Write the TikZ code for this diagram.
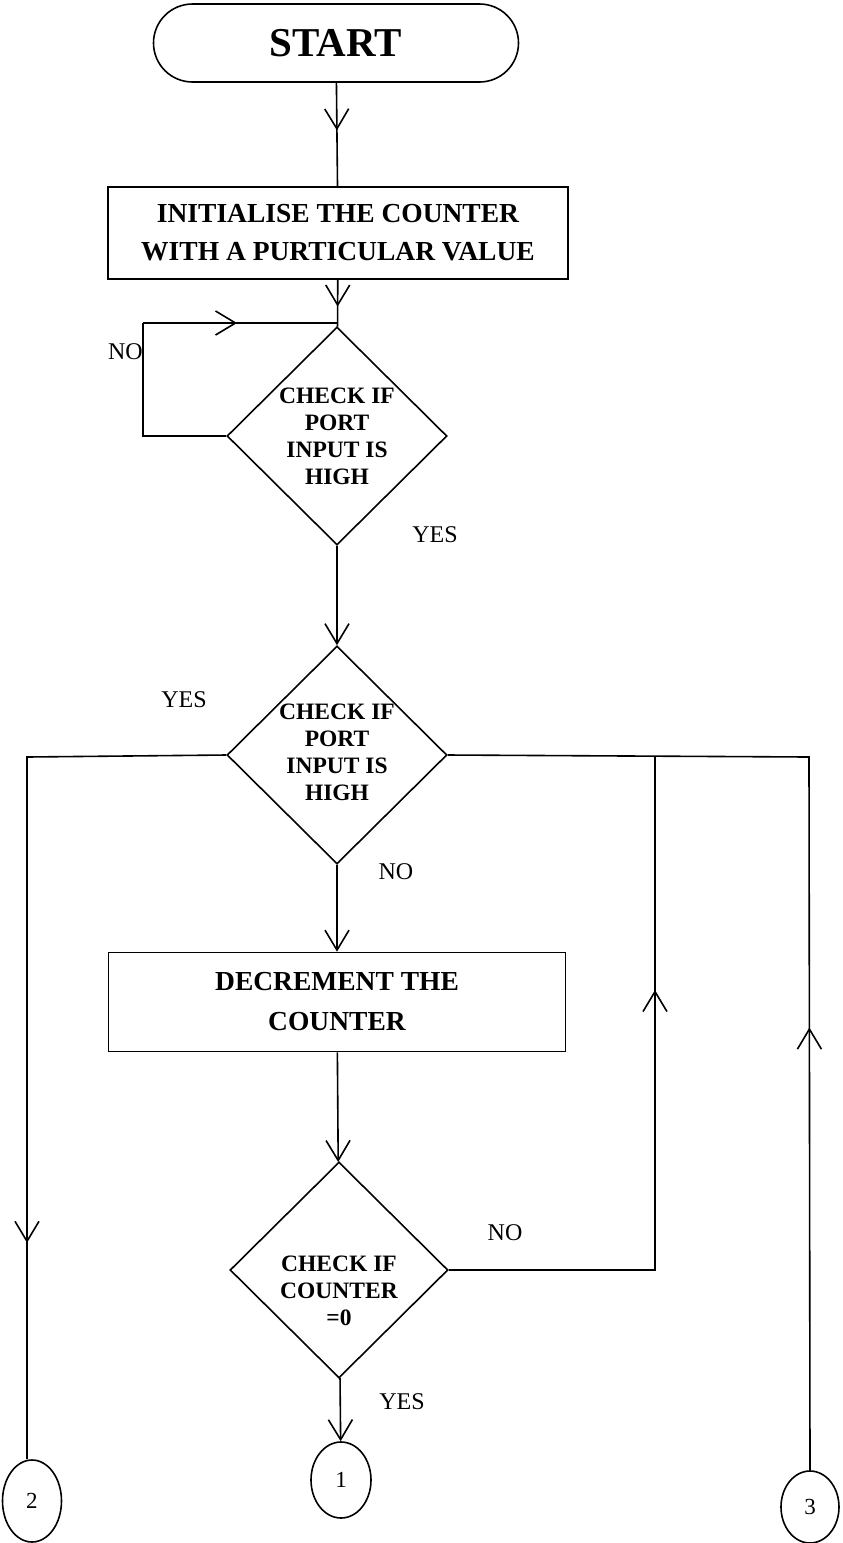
\documentclass[tikz,border=0pt]{standalone}
\usepackage{fontspec}
\setmainfont{Liberation Serif}
\usetikzlibrary{arrows.meta,shapes.geometric,decorations.markings}
\begin{document}
\begin{tikzpicture}[x=1pt,y=-1pt,
  flow/.style={line width=1.6pt},
  >={Straight Barb[length=20pt,width=24pt]},
  midarrow/.style={postaction={decorate,decoration={markings,mark=at position #1 with {\arrow{>}}}}},
  terminal/.style={draw,line width=1.6pt,rounded corners=39pt,minimum width=365pt,minimum height=78pt,inner sep=0pt},
  process/.style={draw,line width=1.6pt,inner sep=0pt,align=center},
  decision/.style={draw,line width=1.6pt,diamond,inner sep=0pt,minimum width=220pt,minimum height=218pt},
  dtext/.style={align=center,font=\fontsize{23.5}{27}\selectfont\bfseries},
  conn/.style={draw,line width=1.6pt,ellipse,inner sep=0pt,font=\fontsize{23}{23}\selectfont},
  answer/.style={font=\fontsize{24}{24}\selectfont,inner sep=0pt}]
\useasboundingbox (0,0) rectangle (843,1543);

% boxes
\node[terminal,font=\fontsize{41}{41}\selectfont\bfseries] (start) at (336,43) {START};
\node[process,minimum width=460pt,minimum height=92pt,font=\fontsize{27.5}{38}\selectfont\bfseries] (init) at (338,233)
  {INITIALISE THE COUNTER\\WITH A PURTICULAR VALUE};
\node[decision] (d1) at (337,436) {};
\node[dtext] at (d1) {CHECK IF\\PORT\\INPUT IS\\HIGH};
\node[decision] (d2) at (337,755) {};
\node[dtext] at (337,752) {CHECK IF\\PORT\\INPUT IS\\HIGH};
\node[process,minimum width=457pt,minimum height=99pt,font=\fontsize{27.5}{40}\selectfont\bfseries] (dec) at (337,1002)
  {DECREMENT THE\\COUNTER};
\node[decision,minimum width=218pt,minimum height=216pt] (d3) at (339,1270) {};
\node[dtext] at (339,1291) {CHECK IF\\COUNTER\\=0};

% off-page connectors
\node[conn,minimum width=60pt,minimum height=76pt] (c1) at (341,1480) {1};
\node[conn,minimum width=59pt,minimum height=82pt] (c2) at (32,1501) {2};
\node[conn,minimum width=58pt,minimum height=72pt] (c3) at (810,1507) {3};

% branch corners
\coordinate (top) at (337,323);
\coordinate (loopA) at (143,436);
\coordinate (loopB) at (143,323);
\coordinate (lc) at (27,757);
\coordinate (rc1) at (655,757);
\coordinate (rc2) at (809,757);

% connectors
\draw[flow,midarrow=0.46] (start) -- (init);
\draw[flow,midarrow=0.57] (init) -- (d1);
\draw[flow] (d1.west) -- (loopA) -- (loopB);
\draw[flow,midarrow=0.485] (loopB) -- (top);
\draw[flow,->] (d1) -- (d2);
\draw[flow,->] (d2) -- (dec);
\draw[flow,->] (dec) -- (d3);
\draw[flow,->] (d3) -- (c1);
\draw[flow,midarrow=0.76] (d2.west) -- (lc) -- (lc |- c2.north);
\draw[flow,midarrow=0.676] (d3.east) -- (d3.east -| rc1) -- (rc1);
\draw[flow,midarrow=0.412] (c3.north) -- (rc2) -- (d2.east);

% branch labels
\node[answer,anchor=east] at (143,352) {NO};
\node[answer] at (435,535) {YES};
\node[answer] at (184,700) {YES};
\node[answer] at (396,872) {NO};
\node[answer] at (505,1233) {NO};
\node[answer] at (402,1402) {YES};
\end{tikzpicture}
\end{document}
